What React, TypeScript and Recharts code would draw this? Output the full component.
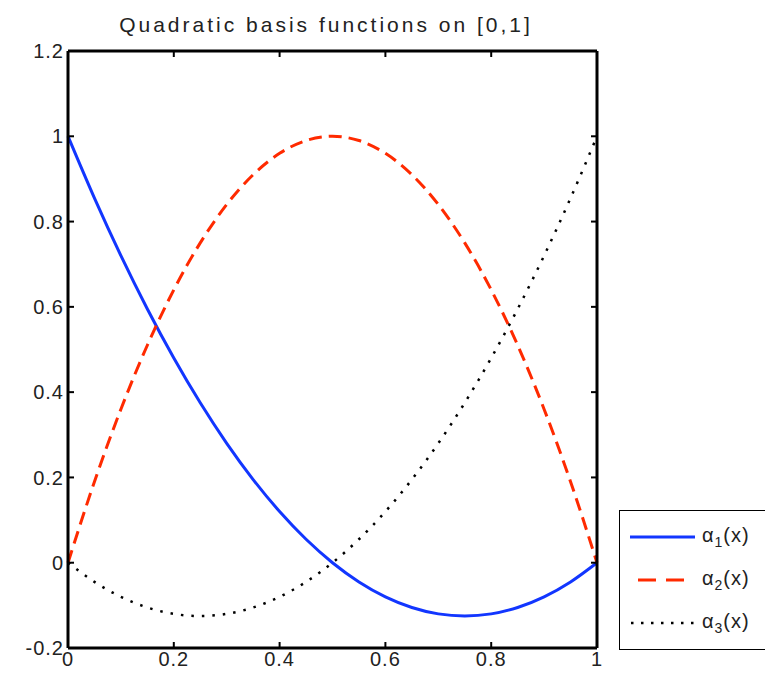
import { LineChart, Line, XAxis, YAxis, Legend } from 'recharts'

// sample points on [0,1]
const xs = [0, 0.05, 0.1, 0.15, 0.2, 0.25, 0.3, 0.35, 0.4, 0.45, 0.5, 0.55, 0.6, 0.65, 0.7, 0.75, 0.8, 0.85, 0.9, 0.95, 1]
const phi1 = [1, 0.855, 0.72, 0.595, 0.48, 0.375, 0.28, 0.195, 0.12, 0.055, 0, -0.045, -0.08, -0.105, -0.12, -0.125, -0.12, -0.105, -0.08, -0.045, 0]
const phi2 = [0, 0.19, 0.36, 0.51, 0.64, 0.75, 0.84, 0.91, 0.96, 0.99, 1, 0.99, 0.96, 0.91, 0.84, 0.75, 0.64, 0.51, 0.36, 0.19, 0]
const phi3 = [0, -0.045, -0.08, -0.105, -0.12, -0.125, -0.12, -0.105, -0.08, -0.045, 0, 0.055, 0.12, 0.195, 0.28, 0.375, 0.48, 0.595, 0.72, 0.855, 1]

const xTicks = [0, 0.2, 0.4, 0.6, 0.8, 1]
const yTicks = [-0.2, 0, 0.2, 0.4, 0.6, 0.8, 1, 1.2]
const title = 'Quadratic basis functions on [0,1]'
const seriesLabels = ['α', 'α', 'α']

const FONT = '"Liberation Sans", Arial, Helvetica, sans-serif'
const BLUE = '#1236ff'
const RED = '#ff2a00'

const data = xs.map((x, i) => ({ x, p1: phi1[i], p2: phi2[i], p3: phi3[i] }))

const tickStyle = { fontSize: 20, fill: '#222', fontFamily: FONT, letterSpacing: 1 }
const frame = { stroke: '#000', strokeWidth: 3 }
const tickLine = { stroke: '#000', strokeWidth: 2 }
const blank = () => ''

function LegendBox() {
  const rows = [
    { color: BLUE, dash: undefined, width: 3, x1: 10, x2: 75 },
    { color: RED, dash: '18 10', width: 3, x1: 18, x2: 70 },
    { color: '#000', dash: '2.5 7.5', width: 2.5, x1: 11, x2: 75 },
  ]
  return (
    <div style={{ width: 160, height: 140, border: '1.5px solid #000', background: '#fff', boxSizing: 'border-box', position: 'relative', fontFamily: FONT }}>
      {rows.map((r, i) => (
        <div key={i} style={{ position: 'absolute', left: 0, top: 8 + i * 43, height: 36, display: 'flex', alignItems: 'center' }}>
          <svg width={80} height={36}>
            <line x1={r.x1} x2={r.x2} y1={18} y2={18} stroke={r.color} strokeWidth={r.width} strokeDasharray={r.dash} />
          </svg>
          <span style={{ fontSize: 20, color: '#222', marginLeft: 2, letterSpacing: 1 }}>
            {seriesLabels[i]}<sub style={{ fontSize: 14 }}>{i + 1}</sub>(x)
          </span>
        </div>
      ))}
    </div>
  )
}

export default function App() {
  return (
    <div style={{ width: 765, height: 677, overflow: 'hidden', position: 'relative', background: '#fff' }}>
      <style>{'body{margin:0}'}</style>
      <LineChart width={765} height={677} data={data} margin={{ top: 47, right: 164, bottom: 0, left: 8 }}>
        <text x={326} y={32} textAnchor="middle" fontSize={21} fill="#222" fontFamily={FONT} letterSpacing={3}>
          {title}
        </text>
        <XAxis dataKey="x" type="number" domain={[0, 1]} ticks={xTicks} height={29}
          tick={tickStyle} tickSize={-6} tickMargin={10} axisLine={frame} tickLine={tickLine} />
        <XAxis xAxisId="top" orientation="top" dataKey="x" type="number" domain={[0, 1]} ticks={xTicks} height={4}
          tickFormatter={blank} tickSize={-6} axisLine={frame} tickLine={tickLine} />
        <YAxis type="number" domain={[-0.2, 1.2]} ticks={yTicks} width={60}
          tick={tickStyle} tickSize={-6} tickMargin={10} axisLine={frame} tickLine={tickLine} />
        <YAxis yAxisId="right" orientation="right" type="number" domain={[-0.2, 1.2]} ticks={yTicks} width={4}
          tickFormatter={blank} tickSize={-6} axisLine={frame} tickLine={tickLine} />
        <Legend layout="horizontal" verticalAlign="middle" align="center" content={<LegendBox />}
          wrapperStyle={{ position: 'absolute', left: 619, top: 510, width: 160, height: 140 }} />
        <Line dataKey="p1" type="monotone" stroke={BLUE} strokeWidth={3} dot={false} isAnimationActive={false} />
        <Line dataKey="p2" type="monotone" stroke={RED} strokeWidth={3} strokeDasharray="13 7" dot={false} isAnimationActive={false} />
        <Line dataKey="p3" type="monotone" stroke="#000" strokeWidth={2.5} strokeDasharray="2.5 8" dot={false} isAnimationActive={false} />
        <Line xAxisId="top" yAxisId="right" dataKey="p3" stroke="none" dot={false} legendType="none" isAnimationActive={false} />
      </LineChart>
    </div>
  )
}
